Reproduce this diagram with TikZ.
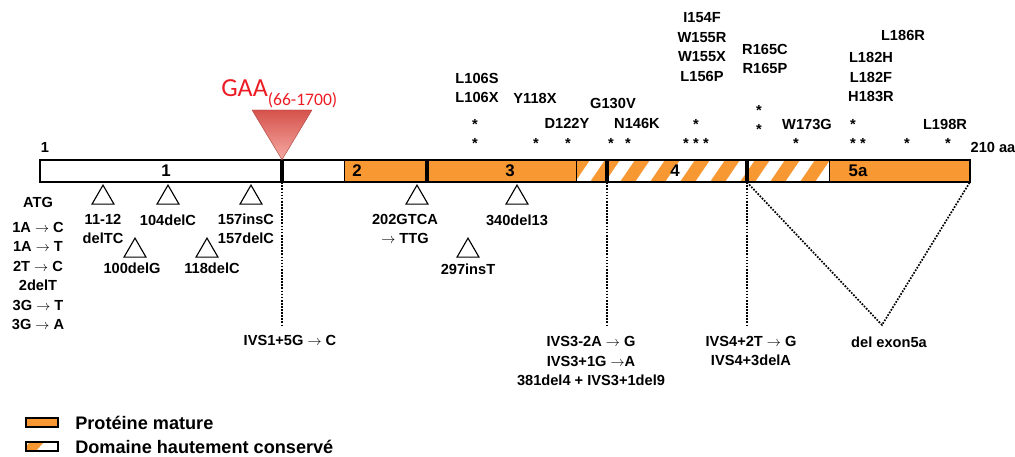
\documentclass[tikz,border=0pt]{standalone}
\usepackage{fontspec}
\setmainfont{Liberation Sans}
\newfontfamily\gaafont{Carlito}
\usepackage{tikz}
\usetikzlibrary{shapes.geometric}
\usetikzlibrary{positioning}
\usepackage{xcolor}
\definecolor{mature}{RGB}{247,152,50}
\definecolor{gaared}{RGB}{236,28,36}
\definecolor{gaatop}{RGB}{214,82,76}
\definecolor{gaabot}{RGB}{246,170,164}

\begin{document}
\begin{tikzpicture}[x=0.025cm, y=-0.025cm,
        every node/.style={font=\bfseries\fontsize{10.4}{13.8}\selectfont, inner sep=0pt, align=center},
        exonlbl/.style={font=\bfseries\fontsize{12}{14}\selectfont},
        legendlbl/.style={font=\bfseries\fontsize{12.9}{15}\selectfont, anchor=west},
        astk/.style={anchor=base},
        hit/.style={draw, line width=0.8pt, fill=white, regular polygon, regular polygon sides=3, minimum size=0.635cm, anchor=corner 1},
        junction/.style={fill=black, minimum width=0.1cm, minimum height=0.55cm},
        dotline/.style={densely dotted, line width=1.2pt}]
    \useasboundingbox (0,0) rectangle (1015,457);

    % protein bar
    \fill[mature] (344,160) rectangle (576,182);
    \fill[mature] (829,160) rectangle (970,182);
    \begin{scope}
        \clip (576,160) rectangle (829,182);
        \foreach \x in {560,590,...,840}
            \fill[mature] (\x,182) -- ++(15,0) -- ++(15,-22) -- ++(-15,0) -- cycle;
    \end{scope}
    \draw[line width=0.9pt] (40,160) rectangle (970,182);
    \foreach \x in {344,576,829}
        \draw[line width=0.6pt] (\x,160) -- (\x,182);
    \coordinate (barend) at (970,182);

    \node[junction] (j1) at (282,171) {};
    \node[junction] (j2) at (427,171) {};
    \node[junction] (j3) at (607,171) {};
    \node[junction] (j4) at (747,171) {};

    \node[exonlbl] (ex1) at (166,171) {1};
    \node[exonlbl] (ex2) at (357,171) {2};
    \node[exonlbl] (ex3) at (510,171) {3};
    \node[exonlbl] (ex4) at (675,171) {4};
    \node[exonlbl] (ex5a) at (858,171) {5a};

    \node (aa1) at (45,147) {1};
    \node (aa210) at (993,147) {210 aa};

    % GAA repeat
    \shade[top color=gaatop, bottom color=gaabot, draw=gaatop!80!black, line width=0.3pt]
        (252,110) -- (312,110) -- (j1.north) -- cycle;
    \node[font=\gaafont\fontsize{18.5}{20}\selectfont, text=gaared, anchor=base west] (gaa) at (221,97)
        {GAA\raisebox{-5.7pt}{\fontsize{12.5}{14}\selectfont(66-1700)}};

    % missense mutations
    \node (l106) at (477,88) {L106S\\L106X};
    \node (y118) at (535,98) {Y118X};
    \node (g130) at (613,103) {G130V};
    \node (d122) at (567,123) {D122Y};
    \node (n146) at (637,123) {N146K};
    \node (i154) at (702,47) {I154F\\W155R\\W155X\\L156P};
    \node (r165) at (765,59) {R165C\\R165P};
    \node (w173) at (807,124) {W173G};
    \node (l186) at (903,35) {L186R};
    \node (l182) at (871,77) {L182H\\L182F\\H183R};
    \node (l198) at (945,124) {L198R};
    \foreach \x/\y [count=\i] in {475/129.5, 475/148.5, 536/148.5, 568/148.5, 611/148.5, 628/148.5,
            696/130, 686/148.5, 696/148.5, 706/148.5, 759/115.5, 759/134.5, 796/148.5,
            853/130, 853/148.5, 863/148.5, 907/148.5, 948/148.5}
        \node[astk] (ast\i) at (\x,\y) {*};

    % small deletions and insertions
    \foreach \x/\y [count=\i] in {103/184, 168/184, 251/184, 417/184, 517/184, 135/237, 207/237, 468/237}
        \node[hit] (hit\i) at (\x,\y) {};
    \node (m1112) at (103,229) {11-12\\delTC};
    \node (m104) at (168,220) {104delC};
    \node (m157) at (246,229) {157insC\\157delC};
    \node (m100) at (132,268) {100delG};
    \node (m118) at (212,268) {118delC};
    \node (m202) at (405,229) {202GTCA\\$\rightarrow$ TTG};
    \node (m340) at (517,220) {340del13};
    \node (m297) at (468,269) {297insT};

    \node (atg) at (38,202) {ATG};
    \node (atgmut) at (38,276) {1A $\rightarrow$ C\\1A $\rightarrow$ T\\2T $\rightarrow$ C\\2delT\\3G $\rightarrow$ T\\3G $\rightarrow$ A};

    % splice mutations
    \coordinate (ivs1end) at (282,325);
    \coordinate (ivs3end) at (607,325);
    \coordinate (ivs4end) at (747,325);
    \coordinate (delend) at (882,325);
    \draw[dotline] (j1.south) -- (ivs1end);
    \draw[dotline] (j3.south) -- (ivs3end);
    \draw[dotline] (j4.south) -- (ivs4end);
    \draw[dotline] (j4.south) -- (delend) -- (barend);
    \node (ivs1) at (290,340) {IVS1+5G $\rightarrow$ C};
    \node (ivs3) at (591,361) {IVS3-2A $\rightarrow$ G\\IVS3+1G $\rightarrow$A\\381del4 + IVS3+1del9};
    \node (ivs4) at (751,351) {IVS4+2T $\rightarrow$ G\\IVS4+3delA};
    \node (delex) at (889,342) {del exon5a};

    % legend
    \draw[fill=mature, line width=0.8pt] (26,418) rectangle (58,427);
    \begin{scope}
        \clip (26,442) rectangle (58,451);
        \fill[mature] (22,451) -- ++(14,0) -- ++(8,-9) -- ++(-14,0) -- cycle;
    \end{scope}
    \draw[line width=0.8pt] (26,442) rectangle (58,451);
    \node[legendlbl] (leg1) at (75,423) {Protéine mature};
    \node[legendlbl] (leg2) at (75,447) {Domaine hautement conservé};
\end{tikzpicture}
\end{document}
